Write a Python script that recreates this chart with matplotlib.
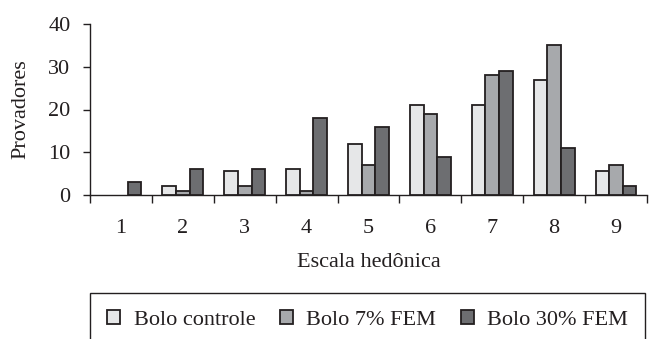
import matplotlib
matplotlib.use("Agg")
import matplotlib.pyplot as plt
import numpy as np
from matplotlib.patches import Rectangle

# data
categories = ["1", "2", "3", "4", "5", "6", "7", "8", "9"]
bolo_controle = [0, 2, 5.5, 6, 12, 21, 21, 27, 5.5]
bolo_7_fem = [0, 1, 2, 1, 7, 19, 28, 35, 7]
bolo_30_fem = [3, 6, 6, 18, 16, 9, 29, 11, 2]
series_labels = ["Bolo controle", "Bolo 7% FEM", "Bolo 30% FEM"]

colors = ["#e6e7e8", "#a7a9ac", "#6d6e71"]
edge = "#231f20"
fs = 16

plt.rcParams["font.family"] = ["Liberation Serif", "DejaVu Serif"]

fig = plt.figure(figsize=(6.49, 3.39), dpi=100)
ax = fig.add_axes([90 / 649, 1 - 195 / 339, 557 / 649, 171 / 339])

x = np.arange(1, len(categories) + 1)
w = 0.22
handles = []
for i, (vals, c, lab) in enumerate(zip([bolo_controle, bolo_7_fem, bolo_30_fem], colors, series_labels)):
    vals = np.array(vals, dtype=float)
    mask = vals > 0
    b = ax.bar(x[mask] + (i - 1) * w, vals[mask], width=w, color=c,
               edgecolor=edge, linewidth=1.3, label=lab, zorder=3)
    handles.append(b)

ax.set_xlim(0.5, 9.5)
ax.set_ylim(0, 40)
ax.set_yticks([0, 10, 20, 30, 40])
ax.set_xticks(np.arange(0.5, 10, 1))
ax.set_xticklabels([])
ax.set_xticks(x, minor=True)
ax.set_xticklabels(categories, minor=True)
ax.tick_params(axis="x", which="major", length=6, width=1, color=edge, direction="out")
ax.tick_params(axis="x", which="minor", length=0, pad=17, labelsize=fs, labelcolor=edge)
ax.tick_params(axis="y", length=5, width=1, color=edge, pad=9, labelsize=fs, labelcolor=edge)

for s in ["top", "right"]:
    ax.spines[s].set_visible(False)
for s in ["left", "bottom"]:
    ax.spines[s].set_color(edge)
    ax.spines[s].set_linewidth(1)

ax.set_ylabel("Provadores", fontsize=fs, color=edge, labelpad=13)
ax.set_xlabel("Escala hedônica", fontsize=fs, color=edge, labelpad=11)

# legend box, bottom edge falls outside the figure
fig.patches.append(Rectangle((90 / 649, -0.05), 555 / 649, 1 - 293 / 339 + 0.05,
                             transform=fig.transFigure, fill=False,
                             edgecolor=edge, linewidth=1))
fig.legend(handles=handles, labels=series_labels, loc="center left",
           bbox_to_anchor=(107 / 649, 1 - 320 / 339), ncol=3, frameon=False,
           borderpad=0, borderaxespad=0,
           fontsize=fs, handlelength=0.6, handleheight=0.6, handletextpad=0.6,
           columnspacing=1.1, labelcolor=edge)

fig.savefig("out.png", dpi=100)
